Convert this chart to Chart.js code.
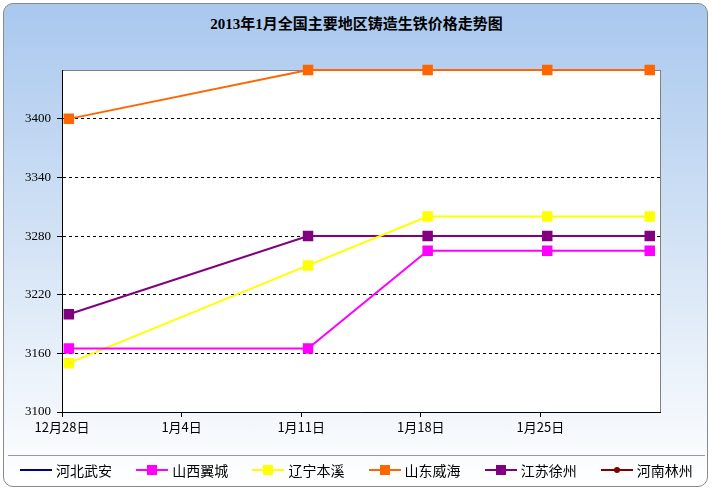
<!DOCTYPE html>
<html><head><meta charset="utf-8">
<script src="https://cdn.jsdelivr.net/npm/chart.js@4"></script>
<style>
html,body{margin:0;padding:0;width:713px;height:491px;overflow:hidden;background:#fff}
#wrap{position:absolute;left:0;top:0;width:713px;height:491px}
#frame{position:absolute;left:3px;top:3px;width:703px;height:482px;border:1px solid #8a8a8a;border-radius:10px;background:linear-gradient(#a9c8ee 0%,#d8e6f6 55%,#ffffff 100%)}
#title{position:absolute;left:0;top:12px;width:713px;text-align:center;font:bold 15px "Liberation Serif","Noto Sans CJK SC",serif;color:#000}
canvas{position:absolute;left:0;top:0}
#legend{position:absolute;left:8px;top:455px;width:697px;height:28px;border-top:1px solid #999;display:flex;justify-content:space-around;align-items:center;font:14px "Noto Sans CJK SC",sans-serif}
.li{display:flex;align-items:center}
.sw{position:relative;width:32px;height:10px;margin-right:4px}
.sw i{position:absolute;left:0;top:4px;width:32px;height:2px}
.sw b{position:absolute;left:11px;top:0;width:10px;height:10px}
</style></head><body>
<div id="wrap"><div id="frame"></div><div id="title">2013年1月全国主要地区铸造生铁价格走势图</div>
<canvas id="c" width="713" height="491"></canvas><div id="legend"></div></div>
<script>
const tickLabels=['12月28日','1月4日','1月11日','1月18日','1月25日'];
const tickDays=[0,7,14,21,28];
const pointDays=[0.4,14.4,21.4,28.4,34.4];
const yTicks=[3100,3160,3220,3280,3340,3400];
const seriesNames=['河北武安','山西翼城','辽宁本溪','山东威海','江苏徐州','河南林州'];
const seriesColors=['#000080','#ff00ff','#ffff00','#ff6600','#800080','#800000'];
const hebei=[null,null,null,null,null];
const shanxi=[3165,3165,3265,3265,3265];
const liaoning=[3150,3250,3300,3300,3300];
const shandong=[3400,3450,3450,3450,3450];
const jiangsu=[3200,3280,3280,3280,3280];
const henan=[null,null,null,null,null];
const allData=[hebei,shanxi,liaoning,shandong,jiangsu,henan];
const datasets=allData.map((d,i)=>({label:seriesNames[i],data:d.map((v,j)=>({x:pointDays[j],y:v})),borderColor:seriesColors[i],backgroundColor:seriesColors[i],borderWidth:2,pointStyle:'rect',pointRadius:6,pointHoverRadius:6,tension:0,clip:false}));
const lg=document.getElementById('legend');
seriesNames.forEach((n,i)=>{lg.innerHTML+=`<div class="li"><div class="sw"><i style="background:${seriesColors[i]}"></i>${(i==0)?'':(i==5?`<b style="left:13px;top:2px;width:6px;height:6px;border-radius:3px;background:${seriesColors[i]}"></b>`:`<b style="background:${seriesColors[i]}"></b>`)}</div>${n}</div>`;});
const bg={id:'bg',beforeDraw(c){const a=c.chartArea,x=c.ctx;x.save();x.fillStyle='#fff';x.fillRect(a.left,a.top,a.right-a.left,a.bottom-a.top);x.strokeStyle='#808080';x.lineWidth=1;x.strokeRect(a.left+0.5,a.top+0.5,a.right-a.left,a.bottom-a.top);x.restore();}};
new Chart(document.getElementById('c'),{type:'line',data:{datasets},plugins:[bg],
options:{responsive:false,animation:false,layout:{padding:{left:0,right:53,top:70,bottom:49}},
plugins:{legend:{display:false},tooltip:{enabled:false}},
scales:{
x:{type:'linear',min:0,max:35,afterBuildTicks(s){s.ticks=tickDays.map(v=>({value:v}));},afterFit(s){s.height=30;},
ticks:{callback:(v)=>tickLabels[tickDays.indexOf(v)],color:'#000',font:{size:13,family:'Noto Sans CJK SC'},maxRotation:0,padding:2},
grid:{display:true,drawOnChartArea:false,tickLength:5,color:'#000'},border:{color:'#000'}},
y:{min:3100,max:3450,afterBuildTicks(s){s.ticks=yTicks.map(v=>({value:v}));},afterFit(s){s.width=62;},
ticks:{color:'#000',font:{size:13,family:'Liberation Serif'},padding:6,callback:(v)=>String(v)},
grid:{color:(c)=>c.tick&&c.tick.value===3100?'rgba(0,0,0,0)':'#000',tickLength:5,tickColor:'#000'},border:{color:'#000',dash:[3,3]}}
}}});
</script></body></html>
